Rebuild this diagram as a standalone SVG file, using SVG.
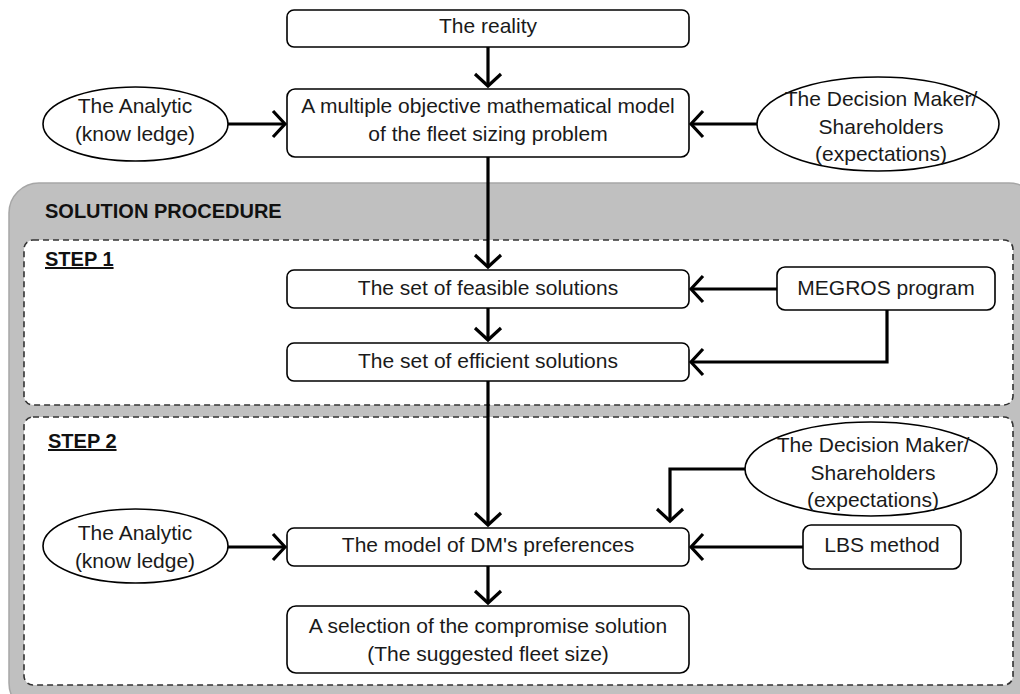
<svg xmlns="http://www.w3.org/2000/svg" width="1020" height="694" viewBox="0 0 1020 694">
  <defs>
    <marker id="arrow" markerUnits="userSpaceOnUse" markerWidth="40" markerHeight="40" viewBox="-20 -20 40 40" refX="0" refY="0" orient="auto">
      <path d="M -12 -13 L 0 0 L -12 13" fill="none" stroke="#000" stroke-width="3.2" stroke-linejoin="miter"/>
    </marker>
    <style>
      .box { fill: #fff; stroke: #000; stroke-width: 1.6; }
      .ell { fill: #fff; stroke: #000; stroke-width: 1.6; }
      .step { fill: #fff; stroke: #333; stroke-width: 1.6; stroke-dasharray: 6 4; }
      .panel { fill: #c0c0c0; stroke: #a6a6a6; stroke-width: 1.5; }
      .t { font-family: "Liberation Sans", Arial, sans-serif; font-size: 21px; fill: #1a1a1a; text-anchor: middle; }
      .h { font-family: "Liberation Sans", Arial, sans-serif; font-size: 20px; font-weight: bold; fill: #111; }
      .conn { fill: none; stroke: #000; stroke-width: 3.2; }
      .arr { marker-end: url(#arrow); }
    </style>
  </defs>

  <!-- solution procedure panel and step frames -->
  <g id="panel">
    <rect class="panel" x="9" y="183" width="1030" height="530" rx="30"/>
    <text class="h" x="45" y="218">SOLUTION PROCEDURE</text>
  </g>
  <g id="step1">
    <rect class="step" x="24" y="240" width="989" height="165" rx="9"/>
    <text class="h" x="45" y="266" text-decoration="underline">STEP 1</text>
  </g>
  <g id="step2">
    <rect class="step" x="24" y="417" width="989" height="268" rx="9"/>
    <text class="h" x="48" y="448" text-decoration="underline">STEP 2</text>
  </g>

  <!-- connectors -->
  <g id="connectors">
    <line class="conn arr" x1="488" y1="47" x2="488" y2="86"/>
    <line class="conn arr" x1="228" y1="124" x2="285" y2="124"/>
    <line class="conn arr" x1="757" y1="124" x2="691" y2="124"/>
    <line class="conn arr" x1="488" y1="157" x2="488" y2="267"/>
    <line class="conn arr" x1="488" y1="308" x2="488" y2="340"/>
    <line class="conn arr" x1="777" y1="289" x2="691" y2="289"/>
    <polyline class="conn arr" points="887,310 887,362 691,362"/>
    <line class="conn arr" x1="488" y1="381" x2="488" y2="525"/>
    <polyline class="conn arr" points="745,469 670,469 670,521"/>
    <line class="conn arr" x1="228" y1="547" x2="285" y2="547"/>
    <line class="conn arr" x1="803" y1="547" x2="691" y2="547"/>
    <line class="conn arr" x1="488" y1="566" x2="488" y2="603"/>
  </g>

  <!-- nodes -->
  <g id="reality">
    <rect class="box" x="287" y="10" width="402" height="37" rx="7"/>
    <text class="t" x="488" y="33">The reality</text>
  </g>
  <g id="math-model">
    <rect class="box" x="287" y="89" width="402" height="68" rx="8"/>
    <text class="t" x="488" y="113">A multiple objective mathematical model</text>
    <text class="t" x="488" y="141">of the fleet sizing problem</text>
  </g>
  <g id="analytic-1">
    <ellipse class="ell" cx="135.5" cy="124" rx="92.5" ry="37"/>
    <text class="t" x="135" y="113">The Analytic</text>
    <text class="t" x="135" y="141">(know ledge)</text>
  </g>
  <g id="dm-1">
    <ellipse class="ell" cx="878" cy="124" rx="121" ry="47"/>
    <text class="t" x="881" y="106">The Decision Maker/</text>
    <text class="t" x="881" y="134">Shareholders</text>
    <text class="t" x="881" y="161">(expectations)</text>
  </g>
  <g id="feasible">
    <rect class="box" x="287" y="270" width="402" height="38" rx="7"/>
    <text class="t" x="488" y="295">The set of feasible solutions</text>
  </g>
  <g id="megros">
    <rect class="box" x="777" y="267" width="218" height="43" rx="8"/>
    <text class="t" x="886" y="295">MEGROS program</text>
  </g>
  <g id="efficient">
    <rect class="box" x="287" y="343" width="402" height="38" rx="7"/>
    <text class="t" x="488" y="368">The set of efficient solutions</text>
  </g>
  <g id="dm-2">
    <ellipse class="ell" cx="871" cy="469" rx="126" ry="47"/>
    <text class="t" x="873" y="452">The Decision Maker/</text>
    <text class="t" x="873" y="480">Shareholders</text>
    <text class="t" x="873" y="507">(expectations)</text>
  </g>
  <g id="analytic-2">
    <ellipse class="ell" cx="135.5" cy="546" rx="92.5" ry="37"/>
    <text class="t" x="135" y="540">The Analytic</text>
    <text class="t" x="135" y="568">(know ledge)</text>
  </g>
  <g id="preferences">
    <rect class="box" x="287" y="528" width="402" height="38" rx="7"/>
    <text class="t" x="488" y="552">The model of DM's preferences</text>
  </g>
  <g id="lbs">
    <rect class="box" x="803" y="525" width="158" height="44" rx="8"/>
    <text class="t" x="882" y="552">LBS method</text>
  </g>
  <g id="selection">
    <rect class="box" x="287" y="606" width="402" height="67" rx="9"/>
    <text class="t" x="488" y="633">A selection of the compromise solution</text>
    <text class="t" x="488" y="661">(The suggested fleet size)</text>
  </g>
</svg>
